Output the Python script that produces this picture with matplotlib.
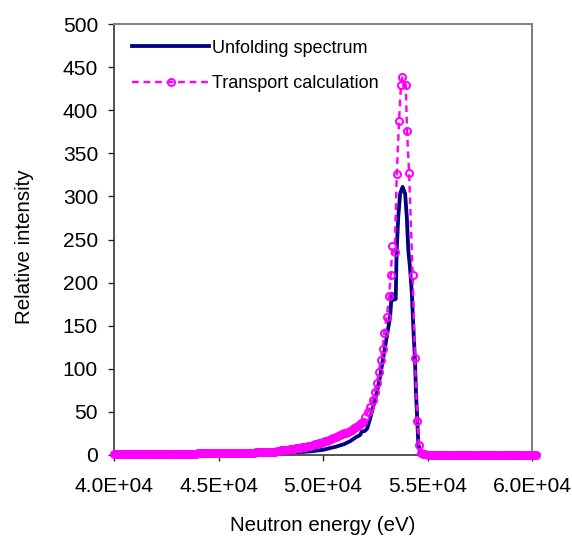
import matplotlib
matplotlib.use("Agg")
import matplotlib.pyplot as plt
from matplotlib.ticker import FuncFormatter, MultipleLocator

plt.rcParams['font.family'] = ['Liberation Sans', 'DejaVu Sans']

# Unfolding spectrum (navy line)
unfold_E = [40000, 41000, 42000, 43000, 43900, 44000, 45000, 46000, 47000, 47600,
            47800, 48400, 49000, 49400, 50000, 50300, 50600, 51000, 51300, 51600,
            51770, 51850, 52010, 52120, 52250, 52410, 52570, 52730, 52890, 53050,
            53210, 53290, 53360, 53480, 53520, 53600, 53690, 53810, 53930, 54010,
            54080, 54160, 54250, 54320, 54400, 54450, 54510, 54560, 54640, 54720,
            60300]
unfold_I = [0.4, 0.4, 0.5, 0.5, 0.6, 1.5, 1.5, 1.6, 1.7, 1.8,
            2.5, 3.0, 3.6, 4.2, 6.0, 7.8, 9.5, 12.5, 16.0, 21.0,
            23.0, 27.0, 28.0, 31.0, 42.0, 57.0, 72.0, 91.0, 114.0, 137.0,
            160.0, 187.0, 180.0, 181.0, 234.0, 276.0, 303.0, 311.0, 303.0, 276.0,
            238.0, 218.0, 188.0, 149.0, 110.0, 72.0, 41.0, 13.5, 4.0, 0.5,
            0.5]

# Transport calculation (magenta dashed line with circle markers)
trans_E = [40000, 40100, 40200, 40300, 40400, 40500, 40600, 40700, 40800, 40900,
           41000, 41100, 41200, 41300, 41400, 41500, 41600, 41700, 41800, 41900,
           42000, 42100, 42200, 42300, 42400, 42500, 42600, 42700, 42800, 42900,
           43000, 43100, 43200, 43300, 43400, 43500, 43600, 43700, 43800, 43900,
           44000, 44100, 44200, 44300, 44400, 44500, 44600, 44700, 44800, 44900,
           45000, 45100, 45200, 45300, 45400, 45500, 45600, 45700, 45800, 45900,
           46000, 46100, 46200, 46300, 46400, 46500, 46600, 46700, 46800, 46900,
           47000, 47100, 47200, 47300, 47400, 47500, 47600, 47700,
           47800, 47900, 48000, 48100, 48200, 48300, 48400, 48500, 48600, 48700,
           48800, 48900, 49000, 49100, 49200, 49300, 49400, 49500, 49600, 49700,
           49800, 49900, 50000, 50100, 50200, 50300, 50400, 50500, 50600, 50700,
           50800, 50900, 51000, 51100, 51200, 51300, 51400, 51500, 51600, 51700,
           51800,
           51930, 52030, 52140, 52250, 52380, 52470, 52570, 52670, 52760, 52860,
           52930, 53050, 53160, 53240, 53320, 53430, 53530, 53640, 53730, 53800,
           53960, 54020, 54120, 54290, 54400, 54510, 54590, 54690,
           54800, 54900, 55000, 55100, 55200, 55300, 55400, 55500, 55600, 55700,
           55800, 55900, 56000, 56100, 56200, 56300, 56400, 56500, 56600, 56700,
           56800, 56900, 57000, 57100, 57200, 57300, 57400, 57500, 57600, 57700,
           57800, 57900, 58000, 58100, 58200, 58300, 58400, 58500, 58600, 58700,
           58800, 58900, 59000, 59100, 59200, 59300, 59400, 59500, 59600, 59700,
           59800, 59900, 60000, 60100, 60200]
trans_I = [0.8, 0.8, 0.8, 0.9, 0.9, 0.8, 0.8, 0.9, 0.9, 0.9,
           0.9, 0.8, 0.8, 0.9, 0.9, 0.9, 0.9, 1.0, 1.0, 0.9,
           0.9, 1.0, 1.0, 1.0, 1.0, 0.9, 0.9, 1.0, 1.0, 1.0,
           1.0, 1.0, 1.1, 1.1, 1.0, 1.0, 1.1, 1.1, 1.1, 1.2,
           2.4, 2.4, 2.4, 2.4, 2.5, 2.5, 2.5, 2.5, 2.5, 2.5,
           2.6, 2.6, 2.6, 2.6, 2.6, 2.6, 2.7, 2.7, 2.7, 2.7,
           2.8, 2.8, 2.8, 2.8, 2.9, 2.9, 2.9, 2.9, 3.0, 3.0,
           3.0, 3.0, 3.1, 3.1, 3.2, 3.2, 3.3, 3.4,
           5.0, 5.2, 5.5, 5.7, 6.0, 6.3, 6.6, 6.9, 7.2, 7.6,
           8.0, 8.4, 8.8, 9.3, 9.8, 10.4, 11.0, 11.6, 12.2, 12.8,
           13.5, 14.2, 15.0, 15.9, 16.8, 17.8, 18.8, 19.9, 21.0, 22.0,
           23.0, 24.0, 25.0, 26.0, 27.0, 28.2, 29.5, 31.0, 33.0, 35.0,
           37.0,
           38.5, 44.0, 50.0, 56.0, 64.0, 73.0, 83.0, 96.0, 110.0, 123.0,
           142.0, 160.0, 184.0, 209.0, 242.0, 235.0, 326.0, 388.0, 429.0, 438.0,
           429.0, 376.0, 327.0, 209.0, 113.0, 40.0, 12.0, 2.7,
           0.6, 0.6, 0.5, 0.5, 0.5, 0.5, 0.5, 0.5, 0.5, 0.5,
           0.5, 0.5, 0.5, 0.5, 0.5, 0.5, 0.5, 0.5, 0.5, 0.5,
           0.5, 0.5, 0.5, 0.5, 0.5, 0.5, 0.5, 0.5, 0.5, 0.5,
           0.5, 0.5, 0.5, 0.5, 0.5, 0.5, 0.5, 0.5, 0.5, 0.5,
           0.5, 0.5, 0.5, 0.5, 0.5, 0.5, 0.5, 0.5, 0.5, 0.5,
           0.5, 0.5, 0.5, 0.5, 0.5]

labels = ["Unfolding spectrum", "Transport calculation"]
x_ticks = [40000, 45000, 50000, 55000, 60000]

W, H = 572, 539
fig = plt.figure(figsize=(W / 72, H / 72), dpi=72)
ax = fig.add_axes([114 / W, 1 - 455 / H, (532 - 114) / W, (455 - 24) / H])

ax.plot(unfold_E, unfold_I, color='#000080', lw=3.8, label=labels[0],
        solid_joinstyle='round', clip_on=False, zorder=2)
ax.plot(trans_E, trans_I, color='#FF00FF', lw=2.4, ls=(0, (2.8, 2.0)),
        marker='o', markersize=7, markerfacecolor='none',
        markeredgecolor='#FF00FF', markeredgewidth=2.0,
        label=labels[1], clip_on=False, zorder=3)

ax.set_xlim(40000, 60000)
ax.set_ylim(0, 500)
ax.set_xticks(x_ticks)
ax.xaxis.set_major_formatter(FuncFormatter(
    lambda v, p: "%.1fE+%02d" % (v / 10 ** 4, 4)))
ax.yaxis.set_major_locator(MultipleLocator(50))

for s in ['top', 'right']:
    ax.spines[s].set_color('#808080')
    ax.spines[s].set_linewidth(2)
for s in ['left', 'bottom']:
    ax.spines[s].set_color('#202020')
    ax.spines[s].set_linewidth(1.5)

ax.tick_params(axis='both', direction='out', length=6, width=1.3,
               color='#202020', labelsize=21, labelcolor='black')
ax.tick_params(axis='y', pad=10)
ax.tick_params(axis='x', pad=16)

ax.set_xlabel("Neutron energy (eV)", fontsize=20.5)
ax.set_ylabel("Relative intensity", fontsize=20.5)
ax.xaxis.set_label_coords(0.5, (455 - 516) / 431)
ax.yaxis.set_label_coords((34 - 114) / 418, (455 - 247) / 431)

leg = ax.legend(loc='upper left', bbox_to_anchor=(0.043, 0.964),
                frameon=False, fontsize=18, handlelength=4.3,
                handletextpad=0.15, labelspacing=1.03, borderpad=0,
                borderaxespad=0, numpoints=1)

fig.savefig("out.png", dpi=72)
